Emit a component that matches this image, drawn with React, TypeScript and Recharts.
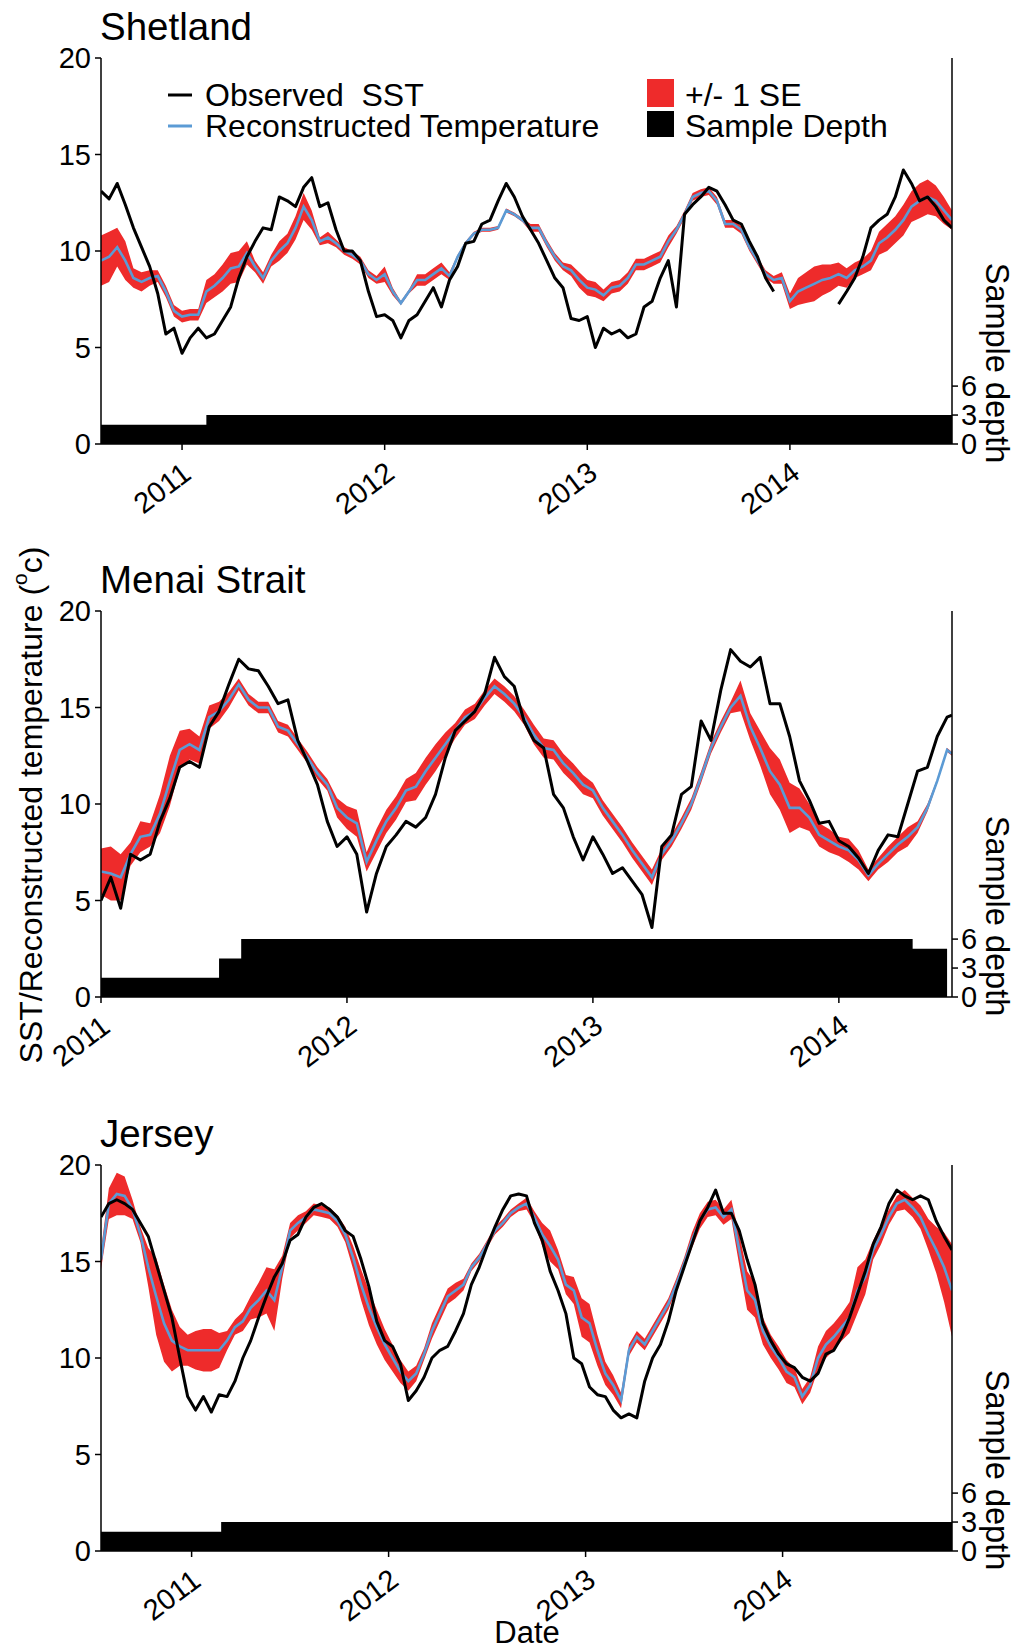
import { ComposedChart, Area, Line, XAxis, YAxis } from "recharts";

const FONT = '"Liberation Sans", Arial, Helvetica, sans-serif';
const RED = "#ee2b2b";
const BLUE = "#5b9bd5";
const YEAR_TICKS = [2011, 2012, 2013, 2014];
const TEMP_TICKS = [0, 5, 10, 15, 20];
const DEPTH_TICKS = [0, 3, 6];

// ── Shetland ──
const SHETLAND_YEARS = [
  2010.60, 2010.64, 2010.68, 2010.72, 2010.76, 2010.80, 2010.84, 2010.88, 2010.92, 2010.96,
  2011.00, 2011.04, 2011.08, 2011.12, 2011.16, 2011.20, 2011.24, 2011.28, 2011.32, 2011.36,
  2011.40, 2011.44, 2011.48, 2011.52, 2011.56, 2011.60, 2011.64, 2011.68, 2011.72, 2011.76,
  2011.80, 2011.84, 2011.88, 2011.92, 2011.96, 2012.00, 2012.04, 2012.08, 2012.12, 2012.16,
  2012.20, 2012.24, 2012.28, 2012.32, 2012.36, 2012.40, 2012.44, 2012.48, 2012.52, 2012.56,
  2012.60, 2012.64, 2012.68, 2012.72, 2012.76, 2012.80, 2012.84, 2012.88, 2012.92, 2012.96,
  2013.00, 2013.04, 2013.08, 2013.12, 2013.16, 2013.20, 2013.24, 2013.28, 2013.32, 2013.36,
  2013.40, 2013.44, 2013.48, 2013.52, 2013.56, 2013.60, 2013.64, 2013.68, 2013.72, 2013.76,
  2013.80, 2013.84, 2013.88, 2013.92, 2013.96, 2014.00, 2014.04, 2014.08, 2014.12, 2014.16,
  2014.20, 2014.24, 2014.28, 2014.32, 2014.36, 2014.40, 2014.44, 2014.48, 2014.52, 2014.56,
  2014.60, 2014.64, 2014.68, 2014.72, 2014.76, 2014.80,
];
const SHETLAND_OBS = [
  13.1, 12.7, 13.5, 12.4, 11.2, 10.2, 9.2, 7.8, 5.7, 6.0,
  4.7, 5.5, 6.0, 5.5, 5.7, 6.4, 7.1, 8.6, 9.7, 10.5,
  11.2, 11.1, 12.8, 12.6, 12.3, 13.3, 13.8, 12.3, 12.5, 11.1,
  10.0, 10.0, 9.5, 7.9, 6.6, 6.7, 6.4, 5.5, 6.4, 6.7,
  7.4, 8.1, 7.1, 8.5, 9.2, 10.4, 10.5, 11.4, 11.6, 12.6,
  13.5, 12.8, 11.8, 11.1, 10.4, 9.5, 8.6, 8.1, 6.5, 6.4,
  6.6, 5.0, 6.0, 5.7, 5.9, 5.5, 5.7, 7.1, 7.4, 8.6,
  9.5, 7.1, 11.9, 12.4, 12.8, 13.3, 13.1, 12.4, 11.6, 11.4,
  10.5, 9.7, 8.6, 7.9, null, null, null, null, null, null,
  null, 7.25, 7.9, 8.6, 9.7, 11.2, 11.6, 11.9, 12.8, 14.2,
  13.5, 12.6, 12.8, 12.3, 11.6, 11.2,
];
const SHETLAND_REC = [
  9.5, 9.7, 10.2, 9.5, 8.6, 8.4, 8.6, 8.7, 7.9, 6.9,
  6.6, 6.7, 6.7, 7.9, 8.2, 8.6, 9.1, 9.2, 9.9, 9.2,
  8.6, 9.5, 10.0, 10.4, 11.2, 12.3, 11.6, 10.5, 10.7, 10.4,
  10.0, 9.8, 9.5, 8.8, 8.5, 8.8, 7.9, 7.3, 7.9, 8.5,
  8.5, 8.8, 9.1, 8.7, 9.7, 10.4, 10.9, 11.1, 11.1, 11.2,
  12.1, 11.9, 11.6, 11.2, 11.2, 10.4, 9.7, 9.2, 9.0, 8.5,
  8.1, 8.0, 7.7, 8.1, 8.2, 8.6, 9.3, 9.3, 9.5, 9.7,
  10.5, 11.1, 11.9, 12.8, 13.0, 13.1, 12.6, 11.4, 11.4, 11.1,
  10.2, 9.5, 8.8, 8.5, 8.6, 7.4, 7.9, 8.1, 8.3, 8.5,
  8.6, 8.8, 8.6, 9.0, 9.2, 9.5, 10.4, 10.7, 11.1, 11.6,
  12.3, 12.6, 12.8, 12.6, 12.1, 11.6,
];
const SHETLAND_SE = [
  1.3, 1.3, 1.0, 1.0, 0.5, 0.5, 0.4, 0.3, 0.3, 0.3,
  0.3, 0.3, 0.3, 0.6, 0.6, 0.7, 0.8, 0.8, 0.6, 0.3,
  0.3, 0.3, 0.5, 0.5, 0.6, 0.7, 0.5, 0.2, 0.3, 0.2,
  0.2, 0.2, 0.2, 0.2, 0.2, 0.4, 0.2, 0.1, 0.1, 0.3,
  0.3, 0.3, 0.3, 0.2, 0.1, 0.1, 0.1, 0.1, 0.1, 0.1,
  0.1, 0.1, 0.1, 0.2, 0.2, 0.2, 0.2, 0.2, 0.3, 0.4,
  0.4, 0.4, 0.3, 0.3, 0.3, 0.3, 0.3, 0.3, 0.3, 0.3,
  0.3, 0.2, 0.2, 0.2, 0.2, 0.2, 0.2, 0.2, 0.2, 0.2,
  0.2, 0.2, 0.2, 0.2, 0.3, 0.4, 0.7, 0.8, 0.9, 0.8,
  0.7, 0.6, 0.5, 0.4, 0.4, 0.5, 0.6, 0.7, 0.7, 0.8,
  0.8, 0.9, 0.9, 0.8, 0.7, 0.5,
];
const SHETLAND_DEPTH_X = [2010.6, 2011.12, 2014.8];
const SHETLAND_DEPTH = [2, 3, 3];

// ── Menai Strait ──
const MENAI_YEARS = [
  2011.00, 2011.04, 2011.08, 2011.12, 2011.16, 2011.20, 2011.24, 2011.28, 2011.32, 2011.36,
  2011.40, 2011.44, 2011.48, 2011.52, 2011.56, 2011.60, 2011.64, 2011.68, 2011.72, 2011.76,
  2011.80, 2011.84, 2011.88, 2011.92, 2011.96, 2012.00, 2012.04, 2012.08, 2012.12, 2012.16,
  2012.20, 2012.24, 2012.28, 2012.32, 2012.36, 2012.40, 2012.44, 2012.48, 2012.52, 2012.56,
  2012.60, 2012.64, 2012.68, 2012.72, 2012.76, 2012.80, 2012.84, 2012.88, 2012.92, 2012.96,
  2013.00, 2013.04, 2013.08, 2013.12, 2013.16, 2013.20, 2013.24, 2013.28, 2013.32, 2013.36,
  2013.40, 2013.44, 2013.48, 2013.52, 2013.56, 2013.60, 2013.64, 2013.68, 2013.72, 2013.76,
  2013.80, 2013.84, 2013.88, 2013.92, 2013.96, 2014.00, 2014.04, 2014.08, 2014.12, 2014.16,
  2014.20, 2014.24, 2014.28, 2014.32, 2014.36, 2014.40, 2014.44, 2014.46,
];
const MENAI_OBS = [
  5.0, 6.2, 4.6, 7.4, 7.1, 7.4, 9.1, 10.3, 11.9, 12.2,
  11.9, 14.0, 14.8, 16.2, 17.5, 17.0, 16.9, 16.1, 15.2, 15.4,
  13.3, 12.2, 11.0, 9.1, 7.8, 8.3, 7.4, 4.4, 6.4, 7.8,
  8.4, 9.1, 8.8, 9.3, 10.5, 12.4, 13.8, 14.3, 14.8, 15.7,
  17.6, 16.6, 16.1, 14.3, 13.3, 12.9, 10.5, 9.8, 8.3, 7.1,
  8.3, 7.4, 6.4, 6.7, 6.0, 5.3, 3.6, 7.8, 8.4, 10.5,
  10.9, 14.3, 13.3, 15.9, 18.0, 17.4, 17.1, 17.6, 15.2, 15.2,
  13.5, 11.2, 10.2, 9.0, 9.1, 8.1, 7.8, 7.2, 6.4, 7.6,
  8.4, 8.3, 10.0, 11.7, 11.9, 13.5, 14.5, 14.6,
];
const MENAI_REC = [
  6.5, 6.4, 6.2, 7.4, 8.3, 8.4, 9.5, 11.2, 12.8, 13.1,
  12.8, 14.5, 14.8, 15.4, 16.2, 15.4, 15.0, 15.0, 14.0, 13.8,
  13.1, 12.4, 11.6, 11.0, 9.8, 9.3, 9.0, 7.0, 8.1, 9.1,
  9.8, 10.7, 10.9, 11.7, 12.4, 13.1, 13.8, 14.5, 14.8, 15.5,
  16.1, 15.7, 15.2, 14.5, 13.6, 12.9, 12.8, 12.1, 11.6, 11.0,
  10.7, 9.8, 9.1, 8.4, 7.6, 6.9, 6.2, 7.4, 8.1, 9.0,
  10.0, 11.4, 12.9, 14.0, 15.0, 15.6, 14.0, 12.9, 11.7, 11.0,
  9.8, 9.8, 9.3, 8.4, 8.1, 7.8, 7.6, 7.1, 6.3, 6.9,
  7.4, 7.9, 8.3, 8.8, 9.8, 11.2, 12.8, 12.6,
];
const MENAI_SE = [
  1.2, 1.4, 1.2, 0.6, 0.8, 0.6, 1.0, 1.3, 1.0, 0.8,
  0.7, 0.6, 0.5, 0.4, 0.3, 0.3, 0.3, 0.3, 0.3, 0.3,
  0.3, 0.3, 0.3, 0.3, 0.5, 0.6, 0.7, 0.5, 0.6, 0.6,
  0.6, 0.6, 0.7, 0.7, 0.7, 0.6, 0.4, 0.4, 0.4, 0.4,
  0.4, 0.4, 0.4, 0.4, 0.5, 0.5, 0.5, 0.5, 0.5, 0.5,
  0.4, 0.4, 0.4, 0.4, 0.4, 0.4, 0.4, 0.3, 0.3, 0.3,
  0.3, 0.3, 0.3, 0.3, 0.3, 0.8, 0.7, 0.9, 1.2, 1.3,
  1.3, 1.0, 0.7, 0.6, 0.6, 0.5, 0.6, 0.5, 0.3, 0.3,
  0.4, 0.4, 0.5, 0.3, 0.2, 0.1, 0.1, 0.1,
];
const MENAI_DEPTH_X = [2011.0, 2011.48, 2011.57, 2014.3, 2014.44, 2014.46];
const MENAI_DEPTH = [2, 4, 6, 5, 0, 0];

// ── Jersey ──
const JERSEY_YEARS = [
  2010.54, 2010.58, 2010.62, 2010.66, 2010.70, 2010.74, 2010.78, 2010.82, 2010.86, 2010.90,
  2010.94, 2010.98, 2011.02, 2011.06, 2011.10, 2011.14, 2011.18, 2011.22, 2011.26, 2011.30,
  2011.34, 2011.38, 2011.42, 2011.46, 2011.50, 2011.54, 2011.58, 2011.62, 2011.66, 2011.70,
  2011.74, 2011.78, 2011.82, 2011.86, 2011.90, 2011.94, 2011.98, 2012.02, 2012.06, 2012.10,
  2012.14, 2012.18, 2012.22, 2012.26, 2012.30, 2012.34, 2012.38, 2012.42, 2012.46, 2012.50,
  2012.54, 2012.58, 2012.62, 2012.66, 2012.70, 2012.74, 2012.78, 2012.82, 2012.86, 2012.90,
  2012.94, 2012.98, 2013.02, 2013.06, 2013.10, 2013.14, 2013.18, 2013.22, 2013.26, 2013.30,
  2013.34, 2013.38, 2013.42, 2013.46, 2013.50, 2013.54, 2013.58, 2013.62, 2013.66, 2013.70,
  2013.74, 2013.78, 2013.82, 2013.86, 2013.90, 2013.94, 2013.98, 2014.02, 2014.06, 2014.10,
  2014.14, 2014.18, 2014.22, 2014.26, 2014.30, 2014.34, 2014.38, 2014.42, 2014.46, 2014.50,
  2014.54, 2014.58, 2014.62, 2014.66, 2014.70, 2014.74, 2014.78, 2014.82, 2014.86,
];
const JERSEY_OBS = [
  17.3, 18.0, 18.2, 18.0, 17.7, 17.0, 16.3, 14.9, 13.5, 12.1,
  10.0, 8.0, 7.3, 8.0, 7.2, 8.1, 8.0, 8.8, 10.0, 10.9,
  12.1, 13.2, 14.2, 14.9, 16.1, 16.4, 17.3, 17.8, 18.0, 17.7,
  17.3, 16.6, 16.3, 15.1, 13.7, 11.9, 10.9, 10.6, 9.7, 7.8,
  8.3, 9.0, 10.0, 10.4, 10.6, 11.4, 12.3, 13.8, 14.7, 15.8,
  16.8, 17.7, 18.4, 18.5, 18.4, 17.0, 16.1, 14.5, 13.5, 12.3,
  10.0, 9.7, 8.5, 8.1, 8.0, 7.3, 6.9, 7.1, 6.9, 8.8,
  10.0, 10.7, 11.9, 13.5, 14.7, 15.9, 17.1, 17.8, 18.7, 17.5,
  17.5, 16.6, 15.1, 13.8, 11.8, 10.9, 10.2, 9.7, 9.5, 9.0,
  8.8, 9.2, 10.2, 10.4, 11.1, 12.1, 13.3, 14.5, 15.9, 16.8,
  18.0, 18.7, 18.4, 18.2, 18.4, 18.2, 17.1, 16.3, 15.6,
];
const JERSEY_REC = [
  15.1, 18.0, 18.5, 18.4, 17.7, 16.4, 14.7, 13.2, 11.8, 10.9,
  10.6, 10.4, 10.4, 10.4, 10.4, 10.4, 10.9, 11.6, 11.9, 12.6,
  13.0, 13.5, 13.0, 14.7, 16.6, 17.0, 17.3, 17.7, 17.6, 17.5,
  17.1, 16.4, 15.2, 13.8, 12.6, 11.6, 10.7, 10.0, 9.3, 8.8,
  9.2, 10.2, 11.4, 12.3, 13.2, 13.5, 13.8, 14.7, 15.2, 15.9,
  16.6, 17.0, 17.5, 17.8, 18.0, 17.3, 16.4, 15.8, 15.1, 13.8,
  13.5, 12.1, 11.8, 10.4, 9.2, 8.6, 7.8, 10.4, 11.1, 10.7,
  11.4, 12.1, 12.8, 13.8, 14.9, 16.1, 17.1, 17.7, 17.8, 17.3,
  17.7, 15.6, 13.5, 13.0, 11.4, 10.6, 10.0, 9.3, 9.0, 8.0,
  8.6, 10.0, 10.7, 11.1, 11.6, 12.1, 13.5, 14.2, 15.6, 16.4,
  17.3, 18.0, 18.2, 17.8, 17.3, 16.4, 15.6, 14.7, 13.5,
];
const JERSEY_SE = [
  0.5, 0.8, 1.1, 1.0, 0.5, 0.4, 1.0, 2.0, 2.0, 1.6,
  1.0, 0.8, 1.0, 1.1, 1.1, 0.9, 0.5, 0.4, 0.5, 0.6,
  0.9, 1.2, 1.6, 0.6, 0.4, 0.4, 0.3, 0.3, 0.3, 0.3,
  0.3, 0.4, 0.6, 0.8, 0.9, 0.9, 0.8, 0.7, 0.6, 0.5,
  0.4, 0.3, 0.4, 0.4, 0.4, 0.4, 0.3, 0.2, 0.2, 0.2,
  0.2, 0.2, 0.2, 0.2, 0.3, 0.3, 0.6, 0.8, 0.5, 0.5,
  0.7, 1.0, 1.0, 0.8, 0.6, 0.5, 0.4, 0.3, 0.3, 0.3,
  0.3, 0.3, 0.3, 0.3, 0.3, 0.4, 0.4, 0.4, 0.4, 0.4,
  0.5, 0.8, 1.0, 0.9, 0.7, 0.6, 0.6, 0.6, 0.5, 0.4,
  0.4, 0.6, 0.7, 0.7, 0.7, 0.8, 1.2, 0.9, 0.5, 0.5,
  0.4, 0.4, 0.5, 0.5, 0.6, 0.8, 1.2, 1.8, 2.4,
];
const JERSEY_DEPTH_X = [2010.54, 2011.15, 2014.86];
const JERSEY_DEPTH = [2, 3, 3];

function buildRows(years: number[], obs: (number | null)[], rec: number[], se: number[]) {
  return years.map((x, i) => ({
    x,
    obs: obs[i],
    rec: rec[i],
    band: [rec[i] - se[i], rec[i] + se[i]],
  }));
}

function buildDepth(xs: number[], depth: number[]) {
  return xs.map((x, i) => ({ x, depth: depth[i] }));
}

function YearTick(props: any) {
  const { x, y, payload } = props;
  const cx = x - 20;
  const cy = y + 36;
  return (
    <text
      x={cx}
      y={cy}
      textAnchor="middle"
      dominantBaseline="central"
      fontSize={29}
      fontFamily={FONT}
      fill="#000"
      transform={`rotate(-37 ${cx} ${cy})`}
    >
      {payload.value}
    </text>
  );
}

const TICK_STYLE = { fontSize: 29, fill: "#000", fontFamily: FONT };

function Panel({
  top,
  height,
  plotTop,
  plotBottom,
  domain,
  rows,
  depthRows,
}: {
  top: number;
  height: number;
  plotTop: number;
  plotBottom: number;
  domain: [number, number];
  rows: any[];
  depthRows: any[];
}) {
  return (
    <div style={{ position: "absolute", left: 0, top, width: 1014, height }}>
      <ComposedChart
        width={1014}
        height={height}
        data={rows}
        margin={{ top: plotTop, right: 22, left: 41, bottom: height - plotBottom - 60 }}
      >
        <XAxis
          dataKey="x"
          type="number"
          domain={domain}
          allowDataOverflow
          ticks={YEAR_TICKS}
          interval={0}
          height={60}
          tick={<YearTick />}
          tickSize={6}
          tickMargin={2}
          axisLine={{ stroke: "#000", strokeWidth: 1.5 }}
          tickLine={{ stroke: "#000", strokeWidth: 1.5 }}
        />
        <XAxis
          xAxisId="top"
          orientation="top"
          dataKey="x"
          type="number"
          domain={domain}
          allowDataOverflow
          height={0}
          tick={false}
          tickLine={false}
          axisLine={{ stroke: "#333", strokeWidth: 1.5 }}
        />
        <YAxis
          yAxisId="temp"
          domain={[0, 20]}
          ticks={TEMP_TICKS}
          interval={0}
          width={60}
          tick={TICK_STYLE}
          tickSize={6}
          tickMargin={4}
          axisLine={{ stroke: "#000", strokeWidth: 1.5 }}
          tickLine={{ stroke: "#000", strokeWidth: 1.5 }}
          allowDataOverflow
        />
        <YAxis
          yAxisId="depth"
          orientation="right"
          domain={[0, 40]}
          ticks={DEPTH_TICKS}
          interval={0}
          width={40}
          tick={TICK_STYLE}
          tickSize={6}
          tickMargin={3}
          axisLine={{ stroke: "#000", strokeWidth: 1.5 }}
          tickLine={{ stroke: "#000", strokeWidth: 1.5 }}
          allowDataOverflow
        />
        <Area
          data={depthRows}
          yAxisId="depth"
          dataKey="depth"
          type="stepAfter"
          fill="#000"
          fillOpacity={1}
          stroke="none"
          isAnimationActive={false}
        />
        <Area
          yAxisId="temp"
          dataKey="band"
          type="linear"
          fill={RED}
          fillOpacity={1}
          stroke="none"
          isAnimationActive={false}
        />
        <Line
          yAxisId="temp"
          dataKey="rec"
          type="linear"
          stroke={BLUE}
          strokeWidth={2.6}
          dot={false}
          isAnimationActive={false}
        />
        <Line
          yAxisId="temp"
          dataKey="obs"
          type="linear"
          stroke="#000"
          strokeWidth={3}
          strokeLinejoin="round"
          dot={false}
          connectNulls={false}
          isAnimationActive={false}
        />
      </ComposedChart>
    </div>
  );
}

const PANELS = [
  { title: "Shetland", top: 0, height: 540, plotTop: 58, plotBottom: 444, domain: [2010.6, 2014.8] as [number, number] },
  { title: "Menai Strait", top: 540, height: 540, plotTop: 71, plotBottom: 457, domain: [2011.0, 2014.46] as [number, number] },
  { title: "Jersey", top: 1100, height: 551, plotTop: 65, plotBottom: 451, domain: [2010.54, 2014.86] as [number, number] },
];

export default function App() {
  const shetland = buildRows(SHETLAND_YEARS, SHETLAND_OBS, SHETLAND_REC, SHETLAND_SE);
  const menai = buildRows(MENAI_YEARS, MENAI_OBS, MENAI_REC, MENAI_SE);
  const jersey = buildRows(JERSEY_YEARS, JERSEY_OBS, JERSEY_REC, JERSEY_SE);
  const rows = [shetland, menai, jersey];
  const depths = [
    buildDepth(SHETLAND_DEPTH_X, SHETLAND_DEPTH),
    buildDepth(MENAI_DEPTH_X, MENAI_DEPTH),
    buildDepth(JERSEY_DEPTH_X, JERSEY_DEPTH),
  ];

  return (
    <div style={{ position: "relative", width: 1014, height: 1651, background: "#fff", fontFamily: FONT }}>
      <style>{`body{margin:0}`}</style>
      {PANELS.map((p, i) => (
        <Panel
          key={p.title}
          top={p.top}
          height={p.height}
          plotTop={p.plotTop}
          plotBottom={p.plotBottom}
          domain={p.domain}
          rows={rows[i]}
          depthRows={depths[i]}
        />
      ))}

      {/* titles, legend and axis labels */}
      <svg
        width={1014}
        height={1651}
        style={{ position: "absolute", left: 0, top: 0, pointerEvents: "none" }}
        fontFamily={FONT}
      >
        {PANELS.map((p) => (
          <g key={p.title}>
            <text x={100} y={p.top + p.plotTop - 18} fontSize={38.5} fill="#000">
              {p.title}
            </text>
            <text
              x={997}
              y={p.top + p.plotTop + 305}
              fontSize={32.5}
              fill="#000"
              textAnchor="middle"
              dominantBaseline="central"
              transform={`rotate(90 997 ${p.top + p.plotTop + 305})`}
            >
              Sample depth
            </text>
          </g>
        ))}

        <text
          x={31}
          y={805}
          fontSize={32}
          fill="#000"
          textAnchor="middle"
          dominantBaseline="central"
          transform="rotate(-90 31 805)"
        >
          SST/Reconstructed temperature (
          <tspan fontSize={21} dy={-12}>o</tspan>
          <tspan dy={12}>c)</tspan>
        </text>

        <text x={527} y={1632} fontSize={31} fill="#000" textAnchor="middle" dominantBaseline="central">
          Date
        </text>

        {/* legend */}
        <line x1={168} x2={192} y1={95} y2={95} stroke="#000" strokeWidth={3} />
        <text x={205} y={106} fontSize={32} fill="#000">
          Observed{"\u00a0\u00a0"}SST
        </text>
        <line x1={168} x2={192} y1={126} y2={126} stroke={BLUE} strokeWidth={3} />
        <text x={205} y={137} fontSize={32} fill="#000">
          Reconstructed Temperature
        </text>
        <rect x={647} y={79} width={27} height={28} fill={RED} />
        <text x={685} y={106} fontSize={32} fill="#000">
          +/- 1 SE
        </text>
        <rect x={647} y={111} width={27} height={26} fill="#000" />
        <text x={685} y={137} fontSize={32} fill="#000">
          Sample Depth
        </text>
      </svg>
    </div>
  );
}
